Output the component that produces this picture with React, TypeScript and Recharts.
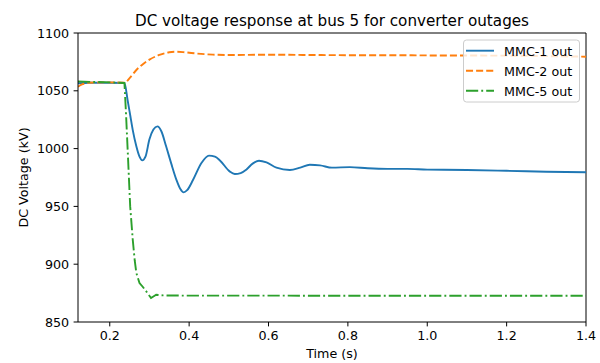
import React from "react";
import { LineChart, Line, XAxis, YAxis, ReferenceLine } from "recharts";

const timeMMC1 = [0.12, 0.15, 0.2, 0.237, 0.245, 0.252, 0.258, 0.267, 0.275, 0.282, 0.29, 0.3, 0.31, 0.32, 0.33, 0.342, 0.355, 0.368, 0.378, 0.386, 0.395, 0.41, 0.431, 0.45, 0.465, 0.477, 0.502, 0.515, 0.53, 0.544, 0.56, 0.576, 0.595, 0.62, 0.654, 0.68, 0.704, 0.73, 0.76, 0.805, 0.85, 0.9, 0.95, 1.0, 1.1, 1.2, 1.3, 1.4];
const voltMMC1 = [1056.5, 1057, 1057, 1056.7, 1042, 1028, 1016, 1002, 993, 989.8, 993, 1008, 1016.5, 1019.2, 1015, 1002, 987, 973, 965, 962.1, 964, 973, 987.5, 993.9, 993, 990, 980.3, 978, 978.8, 981.8, 987, 989.5, 988, 983.5, 981.5, 983.5, 986, 985.5, 983.5, 984, 983, 982.5, 982.5, 981.8, 981.5, 980.8, 980, 979.5];

const timeMMC2 = [0.12, 0.13, 0.145, 0.2, 0.238, 0.25, 0.267, 0.285, 0.3, 0.325, 0.35, 0.37, 0.39, 0.42, 0.46, 0.5, 0.6, 0.7, 0.8, 0.9, 1.0, 1.1, 1.2, 1.3, 1.4];
const voltMMC2 = [1053.5, 1055.5, 1057, 1057.3, 1057, 1061, 1068, 1073.5, 1077, 1081, 1083.3, 1083.8, 1083.3, 1082.2, 1081.3, 1081, 1081.2, 1081, 1080.8, 1080.8, 1080.6, 1080.5, 1080.4, 1080, 1079.5];

const timeMMC5 = [0.12, 0.2, 0.237, 0.241, 0.245, 0.2515, 0.258, 0.263, 0.267, 0.275, 0.283, 0.292, 0.304, 0.317, 0.334, 0.4, 0.6, 0.8, 1.0, 1.2, 1.4];
const voltMMC5 = [1058, 1057.3, 1056.8, 1030, 1000, 950, 921, 903, 892.4, 883.7, 880.5, 876.5, 870.8, 873.6, 873, 872.8, 872.8, 872.7, 872.7, 872.7, 872.7];

const xTicks = [0.2, 0.4, 0.6, 0.8, 1.0, 1.2, 1.4];
const yTicks = [850, 900, 950, 1000, 1050, 1100];
const seriesNames = ["MMC-1 out", "MMC-2 out", "MMC-5 out"];

const toData = (ts: number[], vs: number[]) => ts.map((t, i) => ({ t, v: vs[i] }));
const mmc1Data = toData(timeMMC1, voltMMC1);
const mmc2Data = toData(timeMMC2, voltMMC2);
const mmc5Data = toData(timeMMC5, voltMMC5);

const FONT = "'DejaVu Sans', sans-serif";
const colors = ["#1f77b4", "#ff7f0e", "#2ca02c"];
const dashes = [undefined, "7.05 3.05", "12.2 3.05 1.9 3.05"];
const tickStyle = { fontSize: 12.7, fill: "#000", fontFamily: FONT };

export default function App() {
  return (
    <div style={{ position: "absolute", left: 0, top: 0, width: 600, height: 363, background: "#fff" }}>
      <LineChart width={600} height={363} margin={{ top: 33, right: 14, bottom: 0, left: 0 }}>
        <XAxis
          type="number"
          dataKey="t"
          domain={[0.12, 1.4]}
          ticks={xTicks}
          allowDataOverflow
          height={41}
          stroke="#000"
          tick={tickStyle}
          tickSize={4.4}
          tickMargin={5}
          tickFormatter={(v: number) => v.toFixed(1)}
        />
        <YAxis
          type="number"
          domain={[850, 1100]}
          ticks={yTicks}
          allowDataOverflow
          width={78}
          stroke="#000"
          tick={tickStyle}
          tickSize={4.4}
          tickMargin={4.4}
        />
        <ReferenceLine y={1100} stroke="#000" />
        <ReferenceLine x={1.4} stroke="#000" />
        <Line data={mmc1Data} dataKey="v" type="monotoneX" dot={false} stroke={colors[0]} strokeWidth={1.9} isAnimationActive={false} />
        <Line data={mmc2Data} dataKey="v" type="monotoneX" dot={false} stroke={colors[1]} strokeWidth={1.9} strokeDasharray={dashes[1]} isAnimationActive={false} />
        <Line data={mmc5Data} dataKey="v" type="linear" dot={false} stroke={colors[2]} strokeWidth={1.9} strokeDasharray={dashes[2]} isAnimationActive={false} />
      </LineChart>
      <svg width={600} height={363} style={{ position: "absolute", left: 0, top: 0, pointerEvents: "none" }}>
        <text x={332} y={25.7} textAnchor="middle" fontFamily={FONT} fontSize={15.2} fill="#000">
          DC voltage response at bus 5 for converter outages
        </text>
        <text x={332} y={358} textAnchor="middle" fontFamily={FONT} fontSize={12.7} fill="#000">
          Time (s)
        </text>
        <text transform="translate(27.5,177.5) rotate(-90)" textAnchor="middle" fontFamily={FONT} fontSize={12.7} fill="#000">
          DC Voltage (kV)
        </text>
        <rect x={463.5} y={40} width={116} height={62} rx={3} ry={3} fill="#fff" fillOpacity={0.8} stroke="#cccccc" strokeWidth={1} />
        {seriesNames.map((name, i) => (
          <g key={name}>
            <line x1={466} x2={494} y1={50.7 + i * 20} y2={50.7 + i * 20} stroke={colors[i]} strokeWidth={1.9} strokeDasharray={dashes[i]} />
            <text x={504} y={56 + i * 20} fontFamily={FONT} fontSize={12.7} fill="#000">
              {name}
            </text>
          </g>
        ))}
      </svg>
    </div>
  );
}
